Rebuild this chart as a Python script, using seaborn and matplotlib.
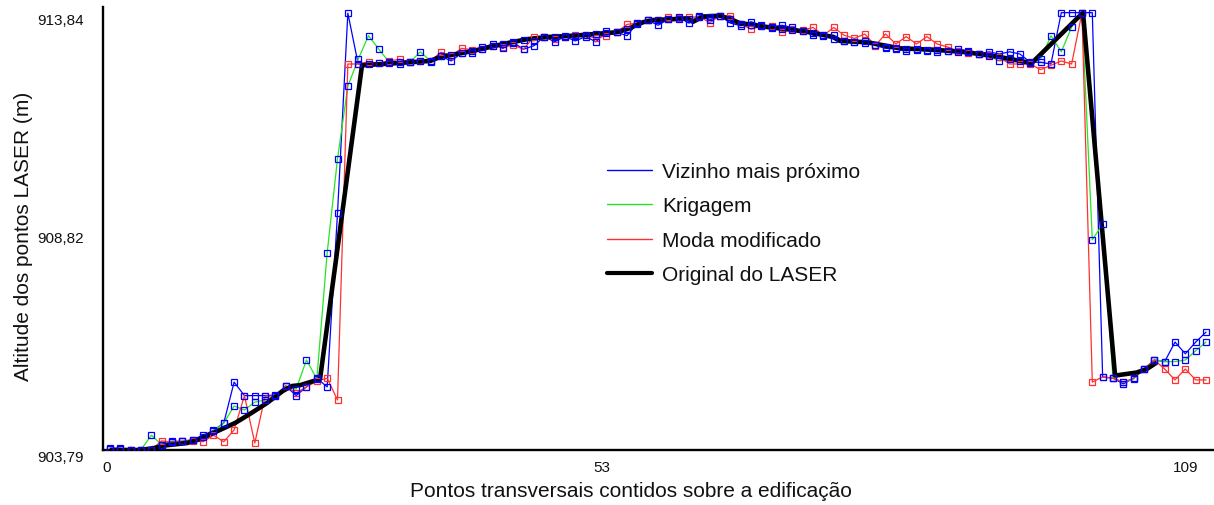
import matplotlib
matplotlib.use("Agg")
import matplotlib.pyplot as plt
import seaborn as sns
from matplotlib.lines import Line2D

# ---------------- data ----------------
point_index = list(range(107))

vizinho = [
    903.83, 903.83, 903.79, 903.80, 903.80, 903.91, 903.99, 903.99, 904.03, 904.13,
    904.24, 904.41, 905.35, 905.04, 905.04, 905.04, 905.05, 905.26, 905.04, 905.24,
    905.44, 905.24, 909.23, 913.83, 912.66, 912.66, 912.68, 912.68, 912.66, 912.70,
    912.73, 912.71, 912.84, 912.73, 912.91, 912.91, 913.04, 913.12, 913.02, 913.15,
    913.00, 913.08, 913.29, 913.17, 913.29, 913.19, 913.29, 913.17, 913.41, 913.39,
    913.31, 913.60, 913.67, 913.55, 913.69, 913.73, 913.60, 913.77, 913.67, 913.77,
    913.60, 913.54, 913.63, 913.55, 913.51, 913.55, 913.50, 913.41, 913.32, 913.31,
    913.32, 913.19, 913.17, 913.19, 913.09, 913.02, 913.01, 912.96, 912.99, 912.96,
    912.94, 912.96, 913.00, 912.96, 912.89, 912.94, 912.89, 912.94, 912.89, 912.70,
    912.70, 912.66, 913.84, 913.84, 913.84, 913.84, 905.47, 905.44, 905.31, 905.44,
    905.65, 905.86, 905.82, 906.27, 906.00, 906.27, 906.50,
]

krigagem = [
    903.81, 903.81, 903.79, 903.80, 904.13, 903.91, 903.97, 903.99, 904.02, 904.09,
    904.23, 904.41, 904.80, 904.71, 904.89, 904.94, 905.03, 905.26, 905.19, 905.86,
    905.42, 908.32, 910.48, 912.15, 912.77, 913.31, 913.00, 912.70, 912.70, 912.70,
    912.94, 912.73, 912.84, 912.86, 912.91, 912.96, 913.01, 913.08, 913.12, 913.16,
    913.21, 913.19, 913.28, 913.28, 913.30, 913.31, 913.32, 913.35, 913.37, 913.39,
    913.46, 913.58, 913.66, 913.67, 913.69, 913.70, 913.69, 913.75, 913.74, 913.77,
    913.69, 913.59, 913.56, 913.53, 913.48, 913.46, 913.45, 913.41, 913.37, 913.32,
    913.24, 913.19, 913.17, 913.15, 913.10, 913.06, 913.02, 913.01, 913.00, 912.99,
    912.98, 912.96, 912.94, 912.93, 912.89, 912.85, 912.73, 912.77, 912.73, 912.68,
    912.77, 913.31, 912.94, 913.51, 913.84, 908.62, 908.98, 905.44, 905.35, 905.42,
    905.65, 905.86, 905.82, 905.82, 905.86, 906.07, 906.27,
]

moda = [
    903.81, 903.81, 903.79, 903.80, 903.80, 904.00, 903.97, 903.99, 904.00, 903.98,
    904.13, 903.98, 904.25, 905.04, 903.95, 905.03, 905.03, 905.26, 905.10, 905.24,
    905.37, 905.44, 904.94, 912.66, 912.66, 912.71, 912.68, 912.73, 912.77, 912.70,
    912.73, 912.73, 912.93, 912.85, 913.02, 912.99, 913.01, 913.08, 913.05, 913.09,
    913.00, 913.29, 913.28, 913.23, 913.29, 913.32, 913.32, 913.25, 913.31, 913.39,
    913.57, 913.60, 913.67, 913.67, 913.73, 913.71, 913.73, 913.75, 913.61, 913.77,
    913.77, 913.58, 913.46, 913.53, 913.53, 913.40, 913.46, 913.44, 913.50, 913.32,
    913.50, 913.32, 913.25, 913.35, 913.08, 913.35, 913.12, 913.29, 913.12, 913.29,
    913.12, 913.05, 912.96, 912.91, 912.89, 912.86, 912.82, 912.66, 912.66, 912.66,
    912.53, 912.63, 912.73, 912.66, 913.84, 905.35, 905.47, 905.44, 905.35, 905.44,
    905.65, 905.86, 905.65, 905.40, 905.65, 905.40, 905.40,
]

laser_pos = [
    0, 3.0, 4.35, 5.13, 7.45, 8.70, 10.44, 12.09, 13.54, 15.18,
    16.73, 17.60, 18.38, 20.31, 24.37, 26.40, 30.95, 31.91, 35.11, 38.01,
    40.33, 42.26, 44.78, 49.03, 50.0, 51.55, 52.51, 54.45, 55.80, 56.38,
    57.35, 58.99, 59.96, 60.93, 63.54, 65.47, 67.70, 69.92, 70.60, 73.21,
    76.40, 79.59, 82.88, 86.07, 89.14, 94.10, 97.20, 99.29, 100.26, 101.23,
]
laser_alt = [
    903.79, 903.79, 903.84, 903.89, 903.95, 904.04, 904.23, 904.41, 904.62, 904.87,
    905.15, 905.26, 905.28, 905.42, 912.63, 912.66, 912.73, 912.82, 912.96, 913.12,
    913.23, 913.28, 913.31, 913.39, 913.46, 913.62, 913.67, 913.69, 913.71, 913.63,
    913.75, 913.77, 913.69, 913.60, 913.51, 913.46, 913.39, 913.28, 913.19, 913.16,
    913.02, 912.99, 912.93, 912.82, 912.68, 913.84, 905.50, 905.57, 905.65, 905.80,
]

series_names = ["Vizinho mais próximo", "Krigagem", "Moda modificado", "Original do LASER"]
x_tick_labels = ["0", "53", "109"]
y_tick_values = [903.79, 908.82, 913.84]
y_tick_labels = ["903,79", "908,82", "913,84"]

# ---------------- style ----------------
sns.set_style("white")
plt.rcParams["font.family"] = ["Liberation Sans", "DejaVu Sans"]

BLUE = "#0000ff"
GREEN = "#22e622"
RED = "#ff3030"

fig = plt.figure(figsize=(12.14, 5.06), dpi=100)
ax = fig.add_axes([103 / 1214, 1 - 451 / 506, 1 - 103 / 1214, (451 - 8) / 506])

# thin interpolation lines
sns.lineplot(x=point_index, y=vizinho, color=BLUE, lw=0.9, ax=ax, zorder=2)
sns.lineplot(x=point_index, y=krigagem, color=GREEN, lw=0.9, ax=ax, zorder=2)
sns.lineplot(x=point_index, y=moda, color=RED, lw=0.9, ax=ax, zorder=2)

# original laser profile (thick black)
sns.lineplot(x=laser_pos, y=laser_alt, color="black", lw=3.3, ax=ax, zorder=3,
             solid_joinstyle="round", solid_capstyle="butt")

# hollow square markers
mk = dict(marker="s", markersize=3.8, markerfacecolor="none", markeredgewidth=0.9,
          linestyle="none", ax=ax, zorder=4)
sns.lineplot(x=point_index, y=moda, color=RED, markeredgecolor=RED, **mk)
sns.lineplot(x=point_index, y=krigagem, color=BLUE, markeredgecolor=BLUE, **mk)
sns.lineplot(x=point_index, y=vizinho, color=BLUE, markeredgecolor=BLUE, **mk)

# axes limits / ticks
ax.set_xlim(-0.68, 106.77)
ax.set_ylim(903.79, 913.97)
ax.set_xticks([-0.3, 47.6, 104.0])
ax.set_xticklabels(x_tick_labels, fontsize=11)
ax.set_yticks(y_tick_values)
ax.set_yticklabels(y_tick_labels, fontsize=11, va="top")
ax.tick_params(axis="both", length=0, colors="#111111")
ax.tick_params(axis="y", pad=14)
ax.tick_params(axis="x", pad=7)

for side in ["top", "right"]:
    ax.spines[side].set_visible(False)
for side in ["left", "bottom"]:
    ax.spines[side].set_linewidth(1.7)
    ax.spines[side].set_color("black")

ax.set_xlabel("Pontos transversais contidos sobre a edificação", fontsize=15, color="#111111")
ax.set_ylabel("Altitude dos pontos LASER (m)", fontsize=15, color="#111111")
ax.xaxis.set_label_coords(0.475, -0.07)
ax.yaxis.set_label_coords(-0.063, 0.485)

handles = [
    Line2D([], [], color=BLUE, lw=1.0),
    Line2D([], [], color=GREEN, lw=1.0),
    Line2D([], [], color=RED, lw=1.0),
    Line2D([], [], color="black", lw=3.0),
]
leg = ax.legend(handles, series_names, loc="upper left",
                bbox_to_anchor=(607 / 1214, 1 - 163 / 506), bbox_transform=fig.transFigure,
                frameon=False, fontsize=15, handlelength=2.15, handletextpad=0.5,
                labelspacing=0.74, borderpad=0, borderaxespad=0)
for t in leg.get_texts():
    t.set_color("#111111")

fig.savefig("out.png", dpi=100)
